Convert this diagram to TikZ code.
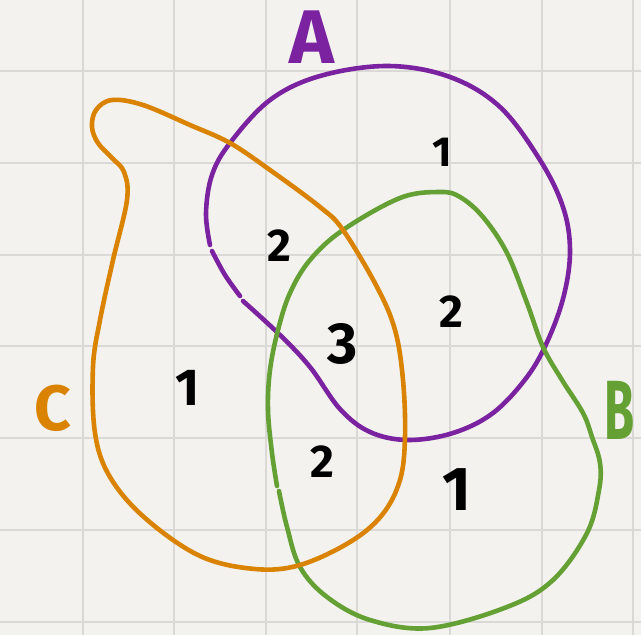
\documentclass[tikz,border=0pt]{standalone}
\usepackage{fontspec}
\setmainfont{Fira Sans}
\definecolor{paper}{HTML}{F3F2EE}
\definecolor{gridc}{HTML}{DAD9D5}
\definecolor{setA}{HTML}{7A22A0}
\definecolor{setB}{HTML}{64A033}
\definecolor{setC}{HTML}{D98300}
\begin{document}
\begin{tikzpicture}[x=1pt,y=-1pt,line cap=round,line join=round,
  gridline/.style={draw=gridc,line width=2.2pt},
  curveA/.style={draw=setA,line width=4.6pt},
  curveB/.style={draw=setB,line width=4.6pt},
  curveC/.style={draw=setC,line width=4.6pt},
  num/.style={text=black,inner sep=0pt,font=\fontsize{#1}{#1}\selectfont\bfseries},
  setlabel/.style={inner sep=0pt,font=\fontsize{#1}{#1}\selectfont\bfseries}]
\fill[paper] (0,0) rectangle (641,635);
\useasboundingbox (0,0) rectangle (641,635);
% grid
\foreach \x in {83,174,266,357,450,542,633} \draw[gridline] (\x,0) -- (\x,635);
\foreach \y in {71,163,255,346,438,530,622} \draw[gridline] (0,\y) -- (641,\y);
% set A (purple)
\draw[curveA] plot[smooth,tension=0.6] coordinates {(243,301) (280,335) (310,367) (340,409) (370,432) (408,440) (453,433) (493,413) (527,377) (548,340) (564,295) (570,250) (563,207) (540,160) (500,107) (450,77) (388,66) (320,76) (270,100) (230,143) (212,175) (206,213) (210,245)};
\draw[curveA] plot[smooth,tension=0.6] coordinates {(212,251) (225,275) (240,296)};
% set B (green)
\draw[curveB] plot[smooth,tension=0.6] coordinates {(279,491) (287,527) (300,567) (327,597) (370,620) (430,628) (507,607) (553,580) (587,533) (599,490) (600,463) (592,437) (583,413) (562,380) (543,347) (527,303) (507,253) (483,217) (460,197) (440,192) (400,198) (343,230) (310,260) (290,293) (278,330) (270,370) (268,410) (272,453) (277,486)};
% set C (orange)
\draw[curveC] plot[smooth cycle,tension=0.6] coordinates {(112,100) (143,105) (190,125) (230,143) (270,170) (320,207) (343,230) (377,287) (395,330) (403,380) (405,437) (400,480) (382,515) (350,542) (300,565) (255,569) (200,556) (145,518) (110,477) (95,433) (93,367) (100,320) (113,260) (127,200) (124,172) (112,158) (98,143) (92,127) (96,110)};
% set labels
\node[setlabel=76,text=setA] (labA) at (312,37) {A};
\node[setlabel=64,text=setC] (labC) at (53,408) {C};
\node[setlabel=84,text=setB,anchor=west] (labB) at (604,410) {\scalebox{0.58}[1]{B}};
% region counts
\node[num=42] (n1) at (442,152) {1};
\node[num=46] (n2) at (279,246) {2};
\node[num=46] (n3) at (451,312) {2};
\node[num=58] (n4) at (343,344) {3};
\node[num=52] (n5) at (188,388) {1};
\node[num=46] (n6) at (322,462) {2};
\node[num=62] (n7) at (457,490) {1};
\end{tikzpicture}
\end{document}
